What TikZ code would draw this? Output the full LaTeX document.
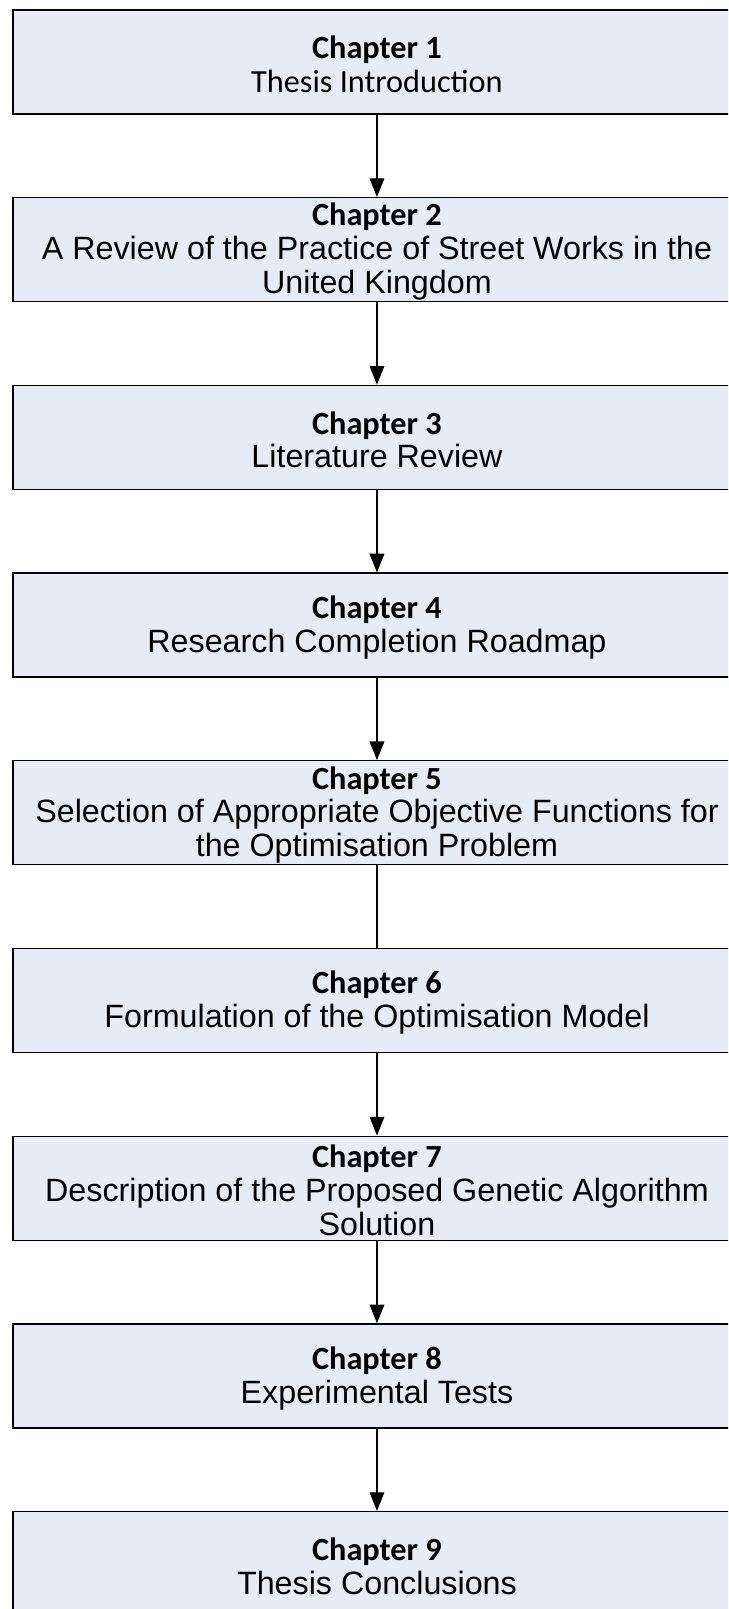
\documentclass[tikz,border=0pt]{standalone}
\usepackage{fontspec}
\setmainfont{Liberation Sans}
\newfontfamily\calibri{Carlito}
\usetikzlibrary{arrows.meta}
\definecolor{boxfill}{RGB}{230,236,246}
\tikzset{
  chapbox/.style={draw=black, line width=1pt, fill=boxfill, rectangle,
    minimum width=546pt, minimum height=78pt, inner sep=0pt, anchor=north west},
  chaptext/.style={inner sep=0pt, align=center,
    font=\fontsize{24.2}{25.3}\selectfont},
  link/.style={line width=1pt, -{Triangle[length=14pt,width=11pt]}},
  plainlink/.style={line width=1pt},
}
\newcommand{\chap}[1]{{\calibri\bfseries Chapter #1}}
\begin{document}
\begin{tikzpicture}[x=0.75pt,y=-0.75pt]
\useasboundingbox (0,0) rectangle (728,1609);
\clip (0,0) rectangle (728,1609);

% chapter boxes, one every 187.7px
\node[chapbox] (c1) at (12.3,9.3)    {};
\node[chapbox] (c2) at (12.3,197.0)  {};
\node[chapbox] (c3) at (12.3,384.7)  {};
\node[chapbox] (c4) at (12.3,572.4)  {};
\node[chapbox] (c5) at (12.3,760.1)  {};
\node[chapbox] (c6) at (12.3,947.8)  {};
\node[chapbox] (c7) at (12.3,1135.5) {};
\node[chapbox] (c8) at (12.3,1323.2) {};
\node[chapbox] (c9) at (12.3,1510.9) {};

% box titles
\node[chaptext] (t1) at ([yshift=-1.8pt]c1.center) {\chap{1}\\{\calibri Thesis Introduction}};
\node[chaptext] (t2) at ([yshift=-1.5pt]c2.center) {\chap{2}\\A Review of the Practice of Street Works in the\\United Kingdom};
\node[chaptext] (t3) at ([yshift=-1.8pt]c3.center) {\chap{3}\\Literature Review};
\node[chaptext] (t4) at ([yshift=-1.8pt]c4.center) {\chap{4}\\Research Completion Roadmap};
\node[chaptext] (t5) at ([yshift=-1.5pt]c5.center) {\chap{5}\\Selection of Appropriate Objective Functions for\\the Optimisation Problem};
\node[chaptext] (t6) at ([yshift=-1.8pt]c6.center) {\chap{6}\\Formulation of the Optimisation Model};
\node[chaptext] (t7) at ([yshift=-1.5pt]c7.center) {\chap{7}\\Description of the Proposed Genetic Algorithm\\Solution};
\node[chaptext] (t8) at ([yshift=-1.8pt]c8.center) {\chap{8}\\Experimental Tests};
\node[chaptext] (t9) at ([yshift=-1.8pt]c9.center) {\chap{9}\\Thesis Conclusions};

% connectors
\draw[link] (c1.south) -- (c2.north);
\draw[link] (c2.south) -- (c3.north);
\draw[link] (c3.south) -- (c4.north);
\draw[link] (c4.south) -- (c5.north);
\draw[plainlink] (c5.south) -- (c6.north);
\draw[link] (c6.south) -- (c7.north);
\draw[link] (c7.south) -- (c8.north);
\draw[link] (c8.south) -- (c9.north);
\end{tikzpicture}
\end{document}
